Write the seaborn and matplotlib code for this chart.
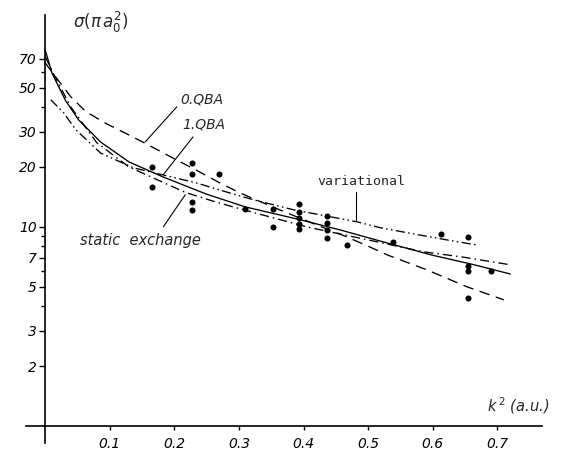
import numpy as np
import pandas as pd
import matplotlib
matplotlib.use("Agg")
import matplotlib.pyplot as plt
import seaborn as sns
from matplotlib.ticker import FixedLocator, NullFormatter

# ---------------- data ----------------
qba0_x = [0, 0.014, 0.026, 0.04, 0.063, 0.095, 0.125, 0.155, 0.2, 0.235, 0.268, 0.30, 0.36, 0.418, 0.46, 0.5, 0.531, 0.59, 0.653, 0.71]
qba0_y = [67, 58, 51.7, 45, 38.0, 33.0, 29.5, 26.3, 22.0, 19.2, 16.8, 14.9, 12.3, 10.3, 9.1, 8.0, 7.2, 6.1, 5.0, 4.3]

qba1_x = [0, 0.011, 0.032, 0.052, 0.086, 0.13, 0.183, 0.25, 0.31, 0.393, 0.457, 0.518, 0.6, 0.66, 0.72]
qba1_y = [78, 59, 43, 34.5, 26.7, 21.2, 17.8, 14.6, 12.6, 10.9, 9.65, 8.5, 7.2, 6.5, 5.8]

static_x = [0, 0.014, 0.04, 0.08, 0.13, 0.217, 0.259, 0.291, 0.405, 0.5, 0.585, 0.647, 0.72]
static_y = [72, 58, 40, 26.5, 20.0, 14.9, 13.5, 12.6, 10.0, 8.6, 7.5, 7.05, 6.45]

var_x = [0.009, 0.029, 0.048, 0.086, 0.137, 0.19, 0.235, 0.286, 0.322, 0.384, 0.483, 0.519, 0.58, 0.622, 0.669]
var_y = [43.5, 37.4, 30.7, 23.5, 19.8, 18.0, 16.6, 14.8, 13.7, 12.2, 10.6, 9.9, 9.1, 8.6, 8.1]

exp_x = [0.166, 0.166, 0.228, 0.228, 0.228, 0.228, 0.269, 0.310, 0.353, 0.353,
         0.393, 0.393, 0.393, 0.393, 0.393, 0.437, 0.437, 0.437, 0.437, 0.467,
         0.539, 0.613, 0.655, 0.655, 0.655, 0.690, 0.655]
exp_y = [20.0, 15.9, 21.0, 18.5, 13.4, 12.2, 18.5, 12.3, 12.3, 10.0,
         13.0, 11.9, 11.1, 10.35, 9.77, 11.35, 10.5, 9.66, 8.8, 8.12,
         8.4, 9.2, 8.9, 6.37, 6.0, 6.0, 4.4]

x_ticks = [0.1, 0.2, 0.3, 0.4, 0.5, 0.6, 0.7]
x_ticklabels = ["0.1", "0.2", "0.3", "0.4", "0.5", "0.6", "0.7"]
y_ticks = [2, 3, 5, 7, 10, 20, 30, 50, 70]
y_ticklabels = ["2", "3", "5", "7", "10", "20", "30", "50", "70"]
y_minor = [4, 6, 8, 9, 40, 60]

# ---------------- figure ----------------
sns.set_theme(style="white")
plt.rcParams['font.family'] = ['DejaVu Sans']
plt.rcParams['mathtext.fontset'] = 'dejavusans'

W, H = 584, 454
fig = plt.figure(figsize=(W / 100, H / 100), dpi=100)
fig.patch.set_facecolor("white")
ax = fig.add_axes([25.6 / W, 1 - 443 / H, (542 - 25.6) / W, (443 - 15) / H])
ax.set_facecolor("white")
ax.set_yscale("log")
ax.set_xlim(-0.030, 0.769)
ax.set_ylim(0.821, 116)

lw = 0.95
sns.lineplot(x=qba0_x, y=qba0_y, ax=ax, color="black", lw=lw, sort=False,
             estimator=None, linestyle=(0, (8, 5)))
sns.lineplot(x=qba1_x, y=qba1_y, ax=ax, color="black", lw=lw, sort=False,
             estimator=None, linestyle="-")
sns.lineplot(x=static_x, y=static_y, ax=ax, color="black", lw=lw, sort=False,
             estimator=None, linestyle=(0, (7, 3, 1.2, 3)))
sns.lineplot(x=var_x, y=var_y, ax=ax, color="black", lw=lw, sort=False,
             estimator=None, linestyle=(0, (7, 2.5, 1.2, 2.5, 1.2, 2.5)))
sns.scatterplot(x=exp_x, y=exp_y, ax=ax, color="black", s=19, edgecolor="black",
                linewidth=0, zorder=5)

# spines
for s in ["top", "right"]:
    ax.spines[s].set_visible(False)
ax.spines["left"].set_position(("data", 0))
ax.spines["bottom"].set_position(("data", 1))
for s in ["left", "bottom"]:
    ax.spines[s].set_color("black")
    ax.spines[s].set_linewidth(1.2)

# ticks
ax.xaxis.set_major_locator(FixedLocator(x_ticks))
ax.set_xticklabels(x_ticklabels, fontstyle="italic", fontsize=10)
ax.yaxis.set_major_locator(FixedLocator(y_ticks))
ax.set_yticklabels(y_ticklabels, fontstyle="italic", fontsize=10)
ax.yaxis.set_minor_locator(FixedLocator(y_minor))
ax.yaxis.set_minor_formatter(NullFormatter())
ax.xaxis.set_minor_locator(FixedLocator([]))
ax.tick_params(axis="x", which="major", direction="out", length=3, width=1,
               colors="black", pad=5, bottom=True)
ax.tick_params(axis="y", which="major", direction="out", length=4, width=1,
               colors="black", pad=2, left=True)
ax.tick_params(axis="y", which="minor", direction="out", length=3, width=1,
               colors="black", left=True)
ax.set_xlabel("")
ax.set_ylabel("")
ax.grid(False)

# texts
ax.text(0.043, 107, r"$\sigma(\pi\,a_0^{2})$", fontsize=12, fontstyle="italic",
        ha="left", va="center")
ax.text(0.684, 1.26, r"$k^{\,2}$ (a.u.)", fontsize=10.5, fontstyle="italic",
        ha="left", va="center")
ax.text(0.209, 43.5, "0.QBA", fontsize=10, fontstyle="italic", ha="left", va="center")
ax.text(0.212, 32.6, "1.QBA", fontsize=10, fontstyle="italic", ha="left", va="center")
ax.text(0.054, 8.5, "static  exchange", fontsize=10.5, fontstyle="italic",
        ha="left", va="center")
ax.text(0.421, 17.0, "variational", fontsize=9.5, family="DejaVu Sans Mono",
        ha="left", va="center")

# pointer lines
ax.plot([0.204, 0.155], [40.1, 26.7], color="black", lw=0.8)
ax.plot([0.229, 0.183], [28.3, 18.3], color="black", lw=0.8)
ax.plot([0.183, 0.217], [10.0, 14.5], color="black", lw=0.8)
ax.plot([0.481, 0.481], [15.0, 10.8], color="black", lw=0.8)

fig.savefig("out.png", dpi=100, facecolor="white")
